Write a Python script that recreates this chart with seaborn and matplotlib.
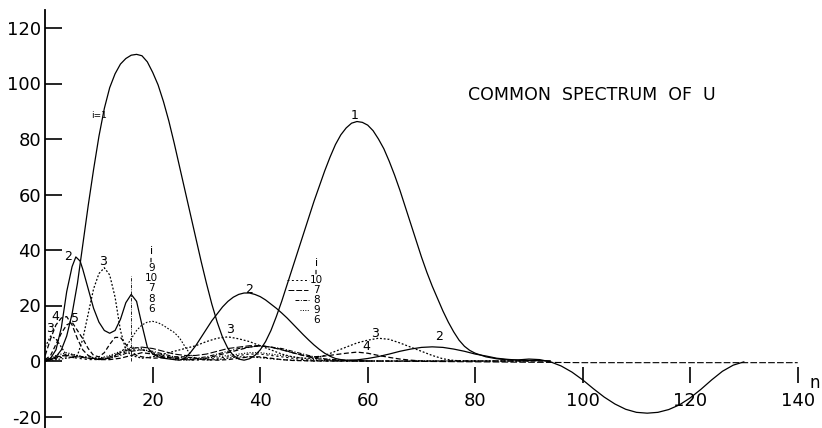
import matplotlib
matplotlib.use("Agg")
import matplotlib.pyplot as plt
import seaborn as sns
import pandas as pd

# ---------------- data ----------------
N1 = [0, 1, 2, 3, 4, 5, 6, 7, 8, 9, 10, 11, 12, 13, 14, 15, 16, 17, 18, 19, 20,
      21, 22, 23, 24, 25, 26, 27, 28, 29, 30, 31, 32, 33, 34, 35, 36, 37, 38, 39,
      40, 41, 42, 43, 44, 45, 46, 47, 48, 49, 50, 51, 52, 53, 54, 55, 56, 57, 58,
      59, 60, 61, 62, 63, 64, 65, 66, 67, 68, 69, 70, 71, 72, 73, 74, 75, 76, 77,
      78, 79, 80, 82, 84, 86, 88, 90, 92, 94, 96, 98, 100, 102, 104, 106, 108,
      110, 112, 114, 116, 118, 120, 122, 124, 126, 128, 130]
U1 = [0, 0.5, 1.5, 4, 9, 17, 28, 42, 56, 69, 81, 91, 98.5, 103.5, 107, 109,
      110.2, 110.5, 110, 107.8, 104, 99.5, 93.5, 86.5, 78.5, 70, 61.5, 53, 44.5,
      36, 28, 20.5, 14, 8.5, 4.5, 2, 0.7, 0.3, 0.8, 2, 4, 7, 11, 16, 21.5, 27.5,
      33.5, 39.5, 45.5, 51.5, 57.5, 63, 68.5, 73.5, 78, 81.5, 84, 85.7, 86.3, 86,
      85, 83, 80, 76.5, 72, 67, 61.5, 55.5, 49.5, 43.5, 37.5, 32, 27, 22.5, 18,
      14, 10.5, 7.5, 5.3, 3.8, 2.8, 1.5, 0.8, 0.4, 0.4, 0.7, 0.5, -0.3, -1.8,
      -4, -6.8, -10, -13, -15.5, -17.4, -18.5, -18.8, -18.5, -17.5, -15.8, -13.3,
      -10.2, -6.8, -3.7, -1.5, -0.3]

N2 = [0, 1, 2, 3, 4, 5, 5.7, 6.5, 7, 8, 9, 10, 11, 12, 13, 14, 15, 16, 17, 18,
      19, 20, 21, 22, 24, 25, 26, 27, 28, 29, 30, 31, 32, 33, 34, 35, 36, 37, 38,
      39, 40, 41, 42, 43, 44, 45, 46, 47, 48, 49, 50, 51, 52, 53, 54, 55, 56, 58,
      60, 62, 64, 66, 68, 70, 72, 74, 76, 78, 80, 82, 84, 86, 88, 90, 94]
U2 = [0, 1, 4, 12, 25, 34, 37.5, 36, 33, 26, 19, 14, 11, 10, 11, 15, 21, 24,
      21.5, 13, 5, 2.5, 1.5, 1, 0.5, 0.3, 1, 3, 5.5, 8.5, 11.5, 14.5, 17, 19.5,
      21.5, 23, 24, 24.5, 24.5, 24, 23.2, 22, 20.5, 19, 17.3, 15.5, 13.5, 11.5,
      9.5, 7.6, 5.8, 4.2, 2.8, 1.7, 0.9, 0.5, 0.3, 0.4, 0.9, 1.6, 2.5, 3.5, 4.3,
      4.9, 5.1, 4.9, 4.3, 3.5, 2.5, 1.8, 1, 0.6, 0.3, 0.2, 0]

N3 = [0, 1, 2, 3, 4, 5, 6, 7, 8, 9, 10, 11, 12, 13, 14, 15, 16, 17, 18, 20, 22,
      24, 26, 28, 30, 32, 34, 36, 38, 40, 42, 44, 46, 48, 50, 52, 54, 56, 58, 60,
      62, 64, 66, 68, 70, 72, 74, 76, 78, 80, 90]
U3 = [5, 9, 8, 5, 2, 1, 2, 8, 17, 26, 31.5, 33.6, 31, 23, 11, 4, 2, 1.5, 1,
      1.5, 2.5, 3.5, 4.5, 5.5, 7, 8.2, 8.7, 8, 7, 5.5, 4, 2.5, 1.5, 1, 1, 2, 3.5,
      5, 6.5, 7.5, 8.2, 7.8, 6.5, 5, 3.5, 2, 0.8, 0.2, 0, 0, 0]

N4 = [0, 1, 2, 3, 4, 5, 6, 7, 8, 9, 10, 12, 14, 16, 18, 20, 22, 24, 26, 28, 30,
      32, 34, 36, 38, 40, 42, 44, 46, 48, 50, 52, 54, 56, 58, 60, 62, 64, 66, 68,
      70, 80, 94]
U4 = [2, 8, 13, 15.5, 16, 13, 8, 4, 2, 1, 0.5, 0.5, 1, 2, 3, 2.5, 1.5, 1, 0.5,
      0.5, 1, 2, 3, 4, 5, 5.5, 5, 4.2, 3, 2, 1.5, 1.8, 2.3, 2.8, 3.2, 2.8, 2, 1.3,
      0.7, 0.3, 0, 0, 0]

N5 = [0, 1, 2, 3, 4, 5, 6, 7, 8, 9, 10, 11, 12, 13, 14, 15, 16, 17, 18, 20, 22,
      24, 26, 28, 30, 32, 34, 36, 38, 40, 42, 44, 46, 50, 60]
U5 = [0.5, 2, 6, 10, 13, 14, 11, 8, 4.5, 2, 1.5, 3, 6, 8.5, 8.5, 6, 3.5, 2, 1.5,
      1, 1.2, 1.5, 1.5, 1, 0.5, 0.3, 0.5, 1, 1.5, 1.5, 1, 0.5, 0.2, 0, 0]

N6 = [0, 2, 4, 6, 8, 10, 12, 14, 15, 16, 17, 18, 19, 20, 21, 22, 23, 24, 25, 26,
      27, 28, 30, 32, 34, 36, 38, 40, 42, 44, 46, 48, 50, 60]
U6 = [0, 0.5, 1, 1.5, 1.5, 1, 1, 3, 5, 8, 11, 13, 14, 14.3, 13.8, 12.8, 11.5,
      10.3, 8.3, 5.2, 2.4, 0.9, 0.3, 0.5, 1, 1.5, 1.5, 1.2, 0.8, 0.5, 0.3, 0.2,
      0, 0]

N7 = [0, 2, 4, 6, 8, 10, 12, 14, 16, 18, 20, 22, 24, 26, 28, 30, 32, 34, 36, 38,
      40, 42, 44, 46, 48, 50, 52, 55, 60, 80, 100, 140]
U7 = [0.5, 1.5, 2, 1.5, 1, 0.8, 1.5, 3, 4.5, 5, 4.5, 3.5, 2.5, 2, 2, 2.5, 3.5,
      4.5, 5, 5.5, 5.5, 5, 4, 3, 2, 1, 0.5, 0.2, 0, -0.3, -0.6, -0.6]

N8 = [0, 2, 4, 6, 8, 10, 12, 14, 16, 18, 20, 22, 24, 26, 28, 30, 32, 34, 36, 38,
      40, 42, 44, 46, 48, 50, 52, 55, 60, 90]
U8 = [0, 1, 2.5, 2, 1, 0.5, 1, 2, 3.5, 4, 3.5, 2.5, 1.5, 1, 1, 1.5, 2.5, 3.5,
      4.5, 5, 5.5, 5, 4.5, 3.5, 2.5, 1.5, 0.8, 0.3, 0, 0]

N9 = [0, 2, 4, 6, 8, 10, 12, 14, 16, 18, 20, 22, 24, 26, 28, 30, 32, 34, 36, 38,
      40, 42, 44, 46, 48, 50, 52, 56, 80]
U9 = [0, 2, 3, 2, 1, 1, 2, 3.5, 5, 4.5, 3, 1.5, 0.5, 0.3, 0.5, 1, 1.5, 2, 2.5,
      3, 3, 2.5, 2, 1.5, 1, 0.5, 0.2, 0, 0]

N10 = [0, 2, 4, 6, 8, 10, 12, 14, 16, 18, 20, 22, 24, 26, 28, 30, 32, 34, 36,
       38, 40, 42, 44, 46, 48, 50, 54, 70]
U10 = [0, 1, 1.5, 1, 0.5, 0.5, 1, 2.5, 4, 4, 3, 2, 1, 0.5, 0.3, 0.5, 1, 1.5, 2,
       2.5, 2.5, 2, 1.5, 1, 0.5, 0.2, 0, 0]

X_TICKS = [20, 40, 60, 80, 100, 120, 140]
Y_TICKS = [-20, 0, 20, 40, 60, 80, 100, 120]
TITLE = "COMMON  SPECTRUM  OF  U"

# curve labels: (text, n, value)
CURVE_LABELS = [("2", 4.3, 37.6), ("3", 10.8, 35.8), ("4", 1.8, 16.0),
                ("5", 5.6, 15.4), ("3", 0.9, 11.8), ("2", 38.0, 25.8),
                ("3", 34.4, 11.2), ("3", 61.4, 10.0), ("4", 59.8, 5.2),
                ("2", 73.2, 8.8), ("1", 57.5, 88.5)]
KEY1 = ["9", "10", "7", "8", "6"]
KEY1_Y = [33.4, 29.8, 26.2, 22.4, 18.8]
KEY2 = ["10", "7", "8", "9", "6"]
KEY2_Y = [29.2, 25.6, 22.0, 18.4, 14.8]

# ---------------- styling ----------------
sns.set_theme(style="white")
plt.rcParams["font.family"] = ["DejaVu Sans"]

dot = (0, (1.5, 1.5))
styles = {
    1: ("-", 0.9), 2: ("-", 0.9), 3: (dot, 0.9), 4: ((0, (4, 2)), 0.9),
    5: ((0, (3.5, 2)), 0.9), 6: (dot, 0.8), 7: ((0, (6, 2)), 0.8),
    8: ((0, (4, 1.5, 1, 1.5)), 0.8), 9: ((0, (1, 1.5)), 0.8),
    10: ((0, (2, 2.5)), 0.8),
}
series = {1: (N1, U1), 2: (N2, U2), 3: (N3, U3), 4: (N4, U4), 5: (N5, U5),
          6: (N6, U6), 7: (N7, U7), 8: (N8, U8), 9: (N9, U9), 10: (N10, U10)}

W, H = 822, 428
X0_PX, Y_TOP_PX = 45.2, 10
fig = plt.figure(figsize=(W / 100, H / 100), dpi=100)
fig.patch.set_facecolor("white")
ax = fig.add_axes([X0_PX / W, 0, 1 - X0_PX / W, (H - Y_TOP_PX) / H])
ax.set_facecolor("white")

for i in range(10, 0, -1):
    n, u = series[i]
    df = pd.DataFrame({"n": n, "u": u})
    ls, lw = styles[i]
    sns.lineplot(data=df, x="n", y="u", ax=ax, color="black", lw=lw,
                 linestyle=ls, sort=False, estimator=None)

ax.set_xlim(0, (W - X0_PX) / 5.375)
ax.set_ylim((361 - H) / 2.775, (361 - Y_TOP_PX) / 2.775)
ax.set_xlabel("")
ax.set_ylabel("")

for s in ["top", "right"]:
    ax.spines[s].set_visible(False)
ax.spines["left"].set_color("black")
ax.spines["left"].set_linewidth(1.3)
ax.spines["bottom"].set_position(("data", -2.05))
ax.spines["bottom"].set_color("none")

ax.set_xticks(X_TICKS)
ax.set_xticklabels([str(v) for v in X_TICKS])
ax.set_yticks(Y_TICKS)
ax.set_yticklabels([str(v) for v in Y_TICKS])
ax.tick_params(axis="x", direction="out", length=11.5, width=1.2,
               color="black", pad=7, labelsize=13, labelcolor="black",
               bottom=True)
ax.tick_params(axis="y", direction="in", length=12, width=1.2,
               color="black", pad=3, labelsize=13, labelcolor="black",
               left=True)

# annotations
ax.text(101.7, 95.7, TITLE, ha="center", va="center", fontsize=12.5,
        color="black")
ax.text(10.1, 88.6, "i=1", ha="center", va="center", fontsize=6.5,
        color="black")
for t, x, y in CURVE_LABELS:
    ax.text(x, y, t, ha="center", va="center", fontsize=9, color="black")
ax.text(143.1, -7.9, "n", ha="center", va="center", fontsize=12,
        color="black")

KEY_FS = 7.5
# first key (near n = 20)
ax.text(19.8, 39.6, "i", ha="center", va="center", fontsize=8, color="black")
ax.text(19.8, 36.6, "=", ha="center", va="center", fontsize=5, rotation=90,
        color="black")
for t, y in zip(KEY1, KEY1_Y):
    ax.text(19.8, y, t, ha="center", va="center", fontsize=KEY_FS,
            color="black")
ax.vlines(16.0, 0, 30.5, colors="black", lw=0.6,
          linestyles=(0, (4, 1.5, 1, 1.5)))

# second key (near n = 50)
KX = 50.5
ax.text(KX, 35.2, "i", ha="center", va="center", fontsize=8, color="black")
ax.text(KX, 32.3, "=", ha="center", va="center", fontsize=5, rotation=90,
        color="black")
for t, y in zip(KEY2, KEY2_Y):
    ax.text(KX, y, t, ha="center", va="center", fontsize=KEY_FS,
            color="black")
key_lines = [(45.0, 49.0, KEY2_Y[0], styles[10][0]),
             (45.2, 48.9, KEY2_Y[1], styles[7][0]),
             (46.5, 49.0, KEY2_Y[2], styles[8][0]),
             (47.4, 49.0, KEY2_Y[3], styles[9][0])]
for x1, x2, y, ls in key_lines:
    ax.hlines(y, x1, x2, colors="black", lw=0.7, linestyles=ls)

fig.savefig("out.png", dpi=100, facecolor="white")
